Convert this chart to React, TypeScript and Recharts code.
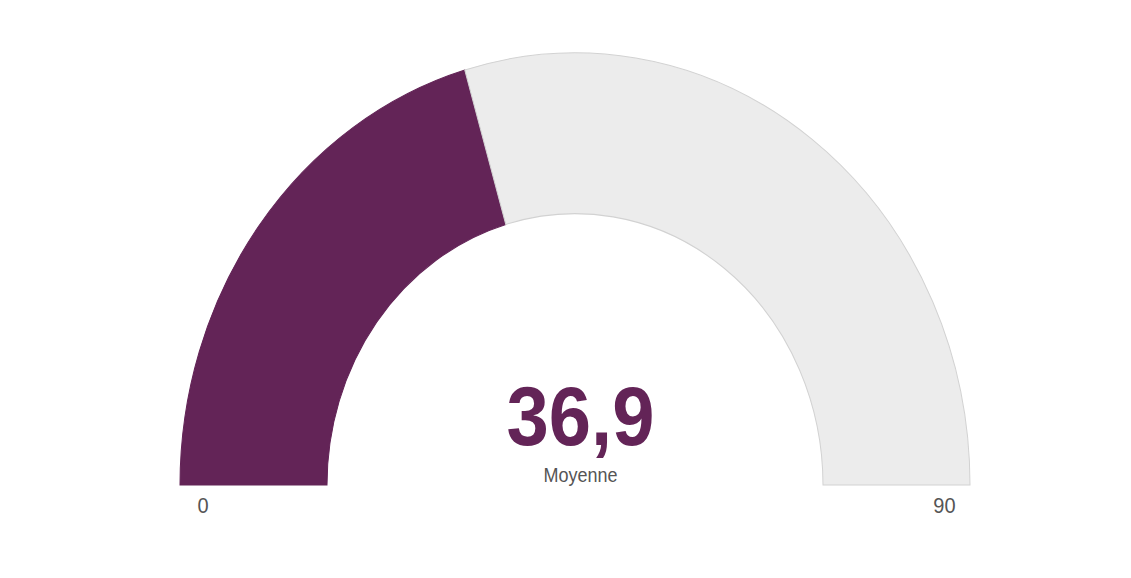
import { PieChart, Pie, Cell } from 'recharts'

// gauge data
const segmentNames = ['Moyenne', 'Reste']
const segmentValues = [36.9, 90 - 36.9]
const segmentColors = ['#632457', '#ececec']
const segmentStrokes = ['#632457', '#d2d2d2']
const gaugeMin = 0
const gaugeMax = 90
const valueLabel = '36,9'
const caption = 'Moyenne'

const data = segmentNames.map((name, i) => ({ name, value: segmentValues[i] }))

const CX = 575
const CY = 485
const STRETCH = 1.094

export default function App() {
  return (
    <div
      style={{
        position: 'absolute',
        left: 0,
        top: 0,
        width: 1131,
        height: 578,
        background: '#fff',
        overflow: 'hidden',
      }}
    >
      <div style={{ transform: `scaleY(${STRETCH})`, transformOrigin: `${CX}px ${CY}px` }}>
        <PieChart width={1131} height={578} margin={{ top: 0, right: 0, bottom: 0, left: 0 }}>
          <Pie
            data={data}
            dataKey="value"
            nameKey="name"
            cx={CX}
            cy={CY}
            startAngle={180}
            endAngle={0}
            innerRadius={248}
            outerRadius={395}
            paddingAngle={0}
            isAnimationActive={false}
          >
            {data.map((d, i) => (
              <Cell key={d.name} fill={segmentColors[i]} stroke={segmentStrokes[i]} strokeWidth={1} />
            ))}
          </Pie>
          <text
            x={580.5}
            y={448}
            textAnchor="middle"
            fontFamily="'Liberation Sans', Arial, sans-serif"
            fontWeight="bold"
            fontSize={76}
            fill="#632457"
          >
            {valueLabel}
          </text>
          <text
            x={580.5}
            y={482}
            textAnchor="middle"
            fontFamily="'Liberation Sans', Arial, sans-serif"
            fontSize={18}
            fill="#555"
          >
            {caption}
          </text>
          <text
            x={203}
            y={510.5}
            textAnchor="middle"
            fontFamily="'Liberation Sans', Arial, sans-serif"
            fontSize={20}
            fill="#555"
          >
            {gaugeMin}
          </text>
          <text
            x={944.5}
            y={510.5}
            textAnchor="middle"
            fontFamily="'Liberation Sans', Arial, sans-serif"
            fontSize={20}
            fill="#555"
          >
            {gaugeMax}
          </text>
        </PieChart>
      </div>
    </div>
  )
}
